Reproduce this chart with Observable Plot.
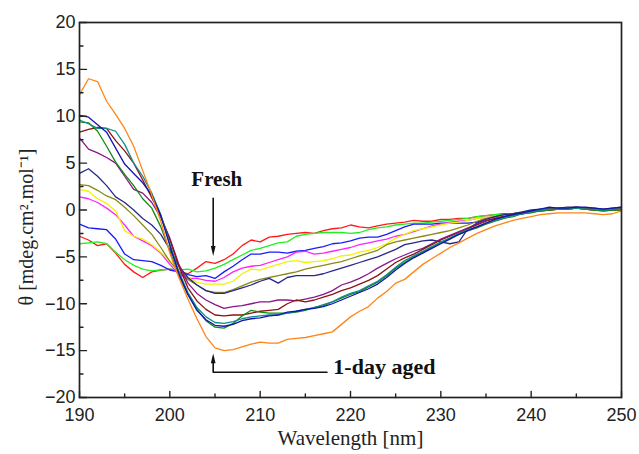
<!DOCTYPE html>
<html><head><meta charset="utf-8">
<script src="https://cdn.jsdelivr.net/npm/d3@7"></script>
<script src="https://cdn.jsdelivr.net/npm/@observablehq/plot@0.6"></script>
<style>html,body{margin:0;padding:0;background:#fff}svg{display:block}</style>
</head><body><div id="chart"></div>
<script>
const wavelength = [
190,191,192,193,194,195,196,197,198,199,
200,201,202,203,204,205,206,207,208,209,
210,211,212,213,214,215,216,217,218,219,
220,221,222,223,224,225,226,227,228,229,
230,231,232,233,234,235,236,237,238,239,
240,241,242,243,244,245,246,247,248,249,
250];

const red = [
-2.8,-3.2,-3.8,-3.6,-4.6,-5.8,-6.6,-7.2,-6.6,-6.4,
-6.3,-6.5,-6.8,-6.2,-5.5,-5.7,-5.3,-4.7,-3.8,-3.2,
-3.4,-2.9,-2.8,-2.6,-2.5,-2.4,-2.5,-2.2,-2.0,-1.9,
-1.6,-1.8,-1.9,-1.7,-1.5,-1.4,-1.3,-1.1,-1.2,-1.2,
-1.0,-1.0,-0.9,-0.9,-0.7,-0.6,-0.5,-0.4,-0.4,-0.3,
-0.2,-0.1,0.0,0.1,0.1,0.2,0.1,0.0,-0.1,0.0,
0.1];
const green = [
-3.6,-3.5,-3.4,-3.6,-4.5,-5.3,-5.9,-6.3,-6.5,-6.4,
-6.3,-6.4,-6.3,-6.6,-6.5,-6.2,-5.8,-5.3,-4.8,-4.3,
-4.1,-3.8,-3.5,-3.4,-2.8,-2.6,-2.5,-2.4,-2.4,-2.4,
-2.5,-2.4,-2.1,-1.9,-1.8,-1.6,-1.5,-1.4,-1.4,-1.3,
-1.2,-1.1,-1.0,-0.9,-0.7,-0.6,-0.5,-0.5,-0.4,-0.3,
-0.2,-0.1,0.0,0.1,0.1,0.2,0.2,0.1,0.0,0.0,
0.0];
const blue = [
-1.5,-1.9,-2.0,-2.1,-3.1,-4.7,-5.3,-5.4,-5.5,-5.9,
-6.4,-6.6,-6.9,-7.1,-7.0,-7.3,-6.6,-6.0,-5.3,-4.7,
-4.7,-4.5,-4.5,-4.6,-4.4,-4.3,-4.1,-3.9,-3.6,-3.5,
-3.3,-3.0,-2.9,-2.9,-2.6,-2.2,-1.8,-1.5,-1.5,-1.5,
-1.4,-1.4,-1.4,-1.4,-1.3,-0.9,-0.7,-0.6,-0.5,-0.4,
-0.2,0.0,0.2,0.1,0.1,0.2,0.1,0.0,0.0,0.1,
0.1];
const magenta = [
1.4,1.2,0.8,0.2,-0.5,-1.6,-2.8,-3.3,-3.8,-4.6,
-5.8,-6.9,-7.3,-7.3,-7.5,-7.6,-7.2,-6.6,-6.2,-6.0,
-5.9,-5.6,-5.3,-5.0,-4.5,-4.4,-4.7,-4.6,-4.4,-4.2,
-4.0,-3.7,-3.5,-3.3,-3.1,-2.8,-2.6,-2.3,-2.0,-1.7,
-1.5,-1.3,-1.2,-1.1,-0.9,-0.8,-0.7,-0.6,-0.4,-0.3,
-0.2,0.0,0.1,0.1,0.2,0.2,0.2,0.1,0.0,0.0,
0.1];
const yellow = [
2.2,2.0,1.2,0.7,-0.1,-2.2,-2.8,-3.1,-3.7,-4.5,
-5.4,-6.4,-7.2,-7.7,-7.9,-7.9,-7.9,-7.6,-6.8,-6.3,
-6.4,-6.1,-5.8,-5.5,-5.4,-5.6,-5.5,-5.4,-5.2,-4.9,
-4.8,-4.5,-4.3,-4.0,-3.6,-3.0,-2.6,-2.2,-2.0,-1.8,
-1.6,-1.4,-1.3,-1.1,-0.9,-0.8,-0.7,-0.6,-0.4,-0.3,
-0.2,-0.1,0.0,0.1,0.2,0.2,0.2,0.1,0.0,0.0,
0.0];
const darkYellow = [
2.7,2.6,2.1,1.5,1.1,0.3,-0.6,-1.6,-2.6,-4.0,
-5.5,-6.6,-7.4,-8.0,-8.6,-8.8,-8.8,-8.5,-8.1,-7.7,
-7.4,-7.2,-7.0,-6.8,-6.6,-6.3,-6.1,-5.9,-5.7,-5.5,
-5.2,-4.9,-4.6,-4.3,-3.7,-3.4,-3.2,-3.0,-2.8,-2.6,
-2.4,-2.2,-1.9,-1.6,-1.2,-0.9,-0.7,-0.5,-0.4,-0.3,
-0.2,-0.1,0.0,0.1,0.1,0.2,0.1,0.0,-0.1,0.0,
0.0];
const navy = [
3.9,4.4,3.6,2.6,1.4,0.8,0.0,-0.9,-1.6,-2.6,
-4.2,-6.0,-7.2,-8.0,-8.6,-8.9,-8.9,-8.6,-8.3,-8.0,
-7.6,-7.3,-7.8,-7.2,-7.0,-7.0,-7.0,-6.8,-6.5,-6.2,
-5.9,-5.6,-5.3,-5.0,-4.6,-4.2,-3.7,-3.5,-3.3,-3.2,
-3.4,-3.6,-3.4,-2.0,-1.4,-1.0,-0.7,-0.5,-0.4,-0.2,
0.0,0.1,0.1,0.2,0.3,0.3,0.2,0.2,0.1,0.2,
0.3];
const purple = [
7.7,6.5,6.1,5.6,5.0,3.6,2.2,1.8,0.8,-0.8,
-3.0,-5.8,-7.8,-8.9,-9.6,-10.1,-10.5,-10.3,-10.2,-10.0,
-9.8,-9.8,-9.6,-9.6,-9.7,-9.5,-9.3,-9.0,-8.6,-8.0,
-7.7,-7.3,-6.8,-6.2,-5.7,-5.2,-4.8,-4.4,-4.1,-3.6,
-3.1,-2.7,-2.3,-1.9,-1.5,-1.1,-0.9,-0.7,-0.5,-0.4,
-0.2,-0.1,0.0,0.1,0.2,0.2,0.2,0.1,0.0,0.0,
0.1];
const wine = [
8.3,8.6,8.8,8.7,7.4,6.3,5.0,3.2,1.3,-0.6,
-3.2,-6.0,-8.3,-9.7,-10.6,-11.2,-11.3,-11.2,-11.2,-11.0,
-10.8,-10.7,-10.6,-10.0,-9.6,-9.8,-9.6,-9.3,-9.0,-8.6,
-8.3,-7.9,-7.5,-7.0,-6.3,-5.6,-5.1,-4.7,-4.2,-3.7,
-3.2,-2.8,-2.4,-2.0,-1.6,-1.2,-0.9,-0.7,-0.5,-0.3,
-0.2,0.0,0.1,0.2,0.2,0.3,0.2,0.1,0.0,0.1,
0.1];
const olive = [
9.4,9.3,8.4,6.8,5.1,3.8,2.6,1.2,0.2,-1.8,
-4.4,-7.0,-9.0,-10.6,-11.8,-12.5,-12.6,-12.1,-11.3,-10.7,
-10.9,-11.0,-11.0,-11.0,-10.9,-10.7,-10.4,-10.2,-9.8,-9.4,
-9.0,-8.7,-8.2,-7.7,-7.0,-6.2,-5.6,-5.0,-4.5,-4.0,
-3.5,-3.0,-2.6,-2.2,-1.9,-1.5,-1.2,-0.9,-0.7,-0.4,
-0.3,-0.1,0.0,0.1,0.1,0.2,0.1,0.0,-0.1,0.0,
0.0];
const darkCyan = [
9.6,9.2,8.7,8.7,8.4,7.0,5.0,3.6,1.8,-0.5,
-3.6,-6.6,-8.8,-10.4,-11.4,-12.0,-12.1,-11.9,-11.6,-11.4,
-11.3,-11.2,-11.2,-11.0,-10.8,-10.6,-10.4,-10.1,-9.8,-9.3,
-8.9,-8.6,-8.1,-7.6,-6.9,-6.1,-5.4,-4.9,-4.4,-3.9,
-3.4,-3.0,-2.5,-2.1,-1.8,-1.4,-1.1,-0.8,-0.6,-0.4,
-0.2,0.0,0.1,0.1,0.2,0.2,0.1,0.1,0.0,0.1,
0.1];
const royal = [
10.1,9.9,9.1,8.3,6.6,4.9,3.9,2.9,1.6,-0.6,
-3.8,-6.8,-9.0,-10.7,-11.7,-12.3,-12.4,-12.2,-11.8,-11.6,
-11.5,-11.3,-11.2,-10.9,-10.8,-10.6,-10.5,-10.3,-10.0,-9.6,
-9.2,-8.8,-8.4,-7.9,-7.2,-6.4,-5.7,-5.1,-4.6,-4.1,
-3.6,-3.1,-2.6,-2.2,-1.8,-1.4,-1.0,-0.7,-0.5,-0.3,
-0.1,0.1,0.3,0.2,0.2,0.3,0.3,0.2,0.1,0.2,
0.3];
const orange = [
12.3,14.0,13.7,11.6,10.2,8.7,6.8,4.2,1.6,-1.2,
-4.6,-7.2,-9.5,-11.6,-13.5,-14.7,-15.0,-14.9,-14.6,-14.3,
-14.1,-14.2,-14.2,-13.8,-13.7,-13.6,-13.4,-13.2,-13.0,-12.2,
-11.4,-10.8,-10.3,-9.4,-8.7,-7.8,-7.4,-6.6,-5.8,-5.2,
-4.6,-4.0,-3.5,-3.0,-2.5,-2.1,-1.7,-1.4,-1.1,-0.9,
-0.7,-0.5,-0.4,-0.3,-0.3,-0.3,-0.3,-0.4,-0.5,-0.4,
-0.1];

const seriesNames = ["red","green","blue","magenta","yellow","darkYellow","navy","purple","wine","olive","darkCyan","royal","orange"];
const seriesValues = [red, green, blue, magenta, yellow, darkYellow, navy, purple, wine, olive, darkCyan, royal, orange];
const seriesColors = ["#ff1a1a","#22ee22","#1a1aff","#ff22ff","#f2f200","#8a8a14","#28288c","#8a168a","#8a1414","#128a12","#128c8c","#1414b0","#ff8516"];

const xTicks = [190,200,210,220,230,240,250];
const xMinorTicks = [195,205,215,225,235,245];
const yTicks = [-20,-15,-10,-5,0,5,10,15,20];
const yMinorTicks = [-17.5,-12.5,-7.5,-2.5,2.5,7.5,12.5,17.5];

const xLabel = "Wavelength [nm]";
const yLabel = "θ [mdeg.cm².mol⁻¹]";

// annotations (data coordinates)
const freshLabel = [{x: 205.2, y: 3.3, text: "Fresh"}];
const freshArrow = [{x1: 204.8, y1: 1.3, x2: 204.8, y2: -4.2}];
const freshTip = [{x: 204.8, y: -4.9}];
const agedLabel = [{x: 218.1, y: -16.7, text: "1-day aged"}];
const agedPath = [{x: 217.4, y: -17.3}, {x: 204.8, y: -17.3}, {x: 204.8, y: -16.0}];
const agedTip = [{x: 204.8, y: -15.3}];

const rows = [];
seriesNames.forEach((name, i) => {
  wavelength.forEach((w, j) => rows.push({series: name, wl: w, v: seriesValues[i][j]}));
});

const arrowHead = {
  draw(ctx, size) {
    const s = Math.sqrt(size);
    ctx.moveTo(0, 0);
    ctx.lineTo(-s * 0.24, s);
    ctx.lineTo(s * 0.24, s);
    ctx.closePath();
  }
};
const tickShape = {
  draw(ctx, l) { ctx.moveTo(0, 0); ctx.lineTo(0, -l); }
};

const axisColor = "#222";
const serif = "'Liberation Serif', 'Times New Roman', serif";
const chart = Plot.plot({
  width: 639,
  height: 454,
  marginLeft: 79,
  marginRight: 18,
  marginTop: 22,
  marginBottom: 57,
  style: {background: "#fff", fontFamily: "'Liberation Sans', Arial, sans-serif"},
  x: {domain: [190, 250]},
  y: {domain: [-20, 20]},
  color: {domain: seriesNames, range: seriesColors},
  marks: [
    Plot.line(rows, {x: "wl", y: "v", z: "series", stroke: "series", strokeWidth: 1.3}),
    Plot.frame({stroke: axisColor, strokeWidth: 1.7}),
    Plot.vector(xTicks, {x: d => d, frameAnchor: "bottom", length: 6, anchor: "start", shape: tickShape, stroke: axisColor, strokeWidth: 1.4}),
    Plot.vector(xMinorTicks, {x: d => d, frameAnchor: "bottom", length: 3.5, anchor: "start", shape: tickShape, stroke: axisColor, strokeWidth: 1.4}),
    Plot.vector(yTicks, {y: d => d, frameAnchor: "left", length: 7, rotate: 90, anchor: "start", shape: tickShape, stroke: axisColor, strokeWidth: 1.4}),
    Plot.vector(yMinorTicks, {y: d => d, frameAnchor: "left", length: 3.5, rotate: 90, anchor: "start", shape: tickShape, stroke: axisColor, strokeWidth: 1.4}),
    Plot.axisX({ticks: xTicks, tickSize: 0, tickPadding: 11, label: null, fontSize: 18, fill: axisColor}),
    Plot.axisY({ticks: yTicks, tickSize: 0, tickPadding: 4, label: null, fontSize: 18, fill: axisColor}),
    Plot.text([xLabel], {frameAnchor: "bottom", dy: 41, fontSize: 21, fontFamily: serif, fill: axisColor, textAnchor: "middle", lineAnchor: "middle"}),
    Plot.text([yLabel], {frameAnchor: "left", dx: -53, dy: 17, rotate: -90, fontSize: 20, fontFamily: serif, fill: axisColor, textAnchor: "middle", lineAnchor: "middle"}),
    Plot.text(freshLabel, {x: "x", y: "y", text: "text", fontSize: 21, fontWeight: "bold", fontFamily: serif, fill: "#111"}),
    Plot.link(freshArrow, {x1: "x1", y1: "y1", x2: "x2", y2: "y2", stroke: "#111", strokeWidth: 1.6}),
    Plot.dot(freshTip, {x: "x", y: "y", symbol: arrowHead, r: 5.6, rotate: 180, fill: "#111", stroke: "none"}),
    Plot.text(agedLabel, {x: "x", y: "y", text: "text", textAnchor: "start", fontSize: 22, fontWeight: "bold", fontFamily: serif, fill: "#111"}),
    Plot.line(agedPath, {x: "x", y: "y", stroke: "#111", strokeWidth: 1.6}),
    Plot.dot(agedTip, {x: "x", y: "y", symbol: arrowHead, r: 5.6, fill: "#111", stroke: "none"})
  ]
});
document.getElementById("chart").appendChild(chart);
</script>
</body></html>
